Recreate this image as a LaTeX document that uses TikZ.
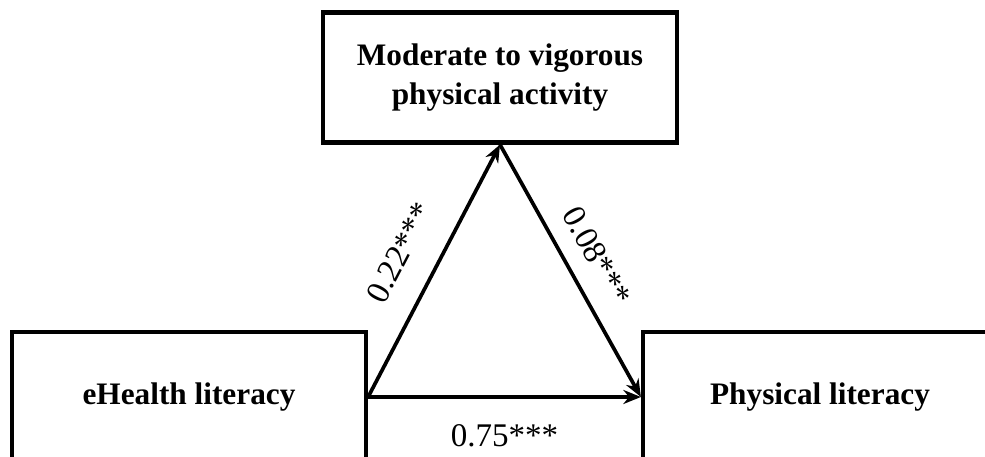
\documentclass[tikz,border=0pt]{standalone}
\usepackage{fontspec}
\setmainfont{Liberation Serif}
\usetikzlibrary{arrows.meta, positioning}
\tikzset{
  vbox/.style={draw=black, line width=1.2pt, fill=white, minimum width=3.54cm,
               minimum height=1.30cm, align=center, inner sep=2pt,
               font=\fontsize{8.9}{11.2}\selectfont\bfseries},
  arr/.style={-{Stealth[length=5pt,width=4pt]}, line width=1.05pt},
  coef/.style={font=\fontsize{9.4}{11}\selectfont},
}

\begin{document}
\begin{tikzpicture}
  \useasboundingbox (0,0) rectangle (9.85,4.57);
  \clip (0,0) rectangle (9.85,4.57);
  \node[vbox] (m) at (5.0,3.795) {Moderate to vigorous\\ physical activity};
  \node[vbox] (e) at (1.89,0.60) {eHealth literacy};
  \node[vbox] (p) at (8.20,0.60) {Physical literacy};
  \draw[arr] (e.east) -- node[coef, sloped, above=4pt] {0.22***} (m.south);
  \draw[arr] (m.south) -- node[coef, sloped, above=1.5pt] {0.08***} (p.west);
  \draw[arr] (e.east) -- node[coef, below=4pt] {0.75***} (p.west);
\end{tikzpicture}
\end{document}
